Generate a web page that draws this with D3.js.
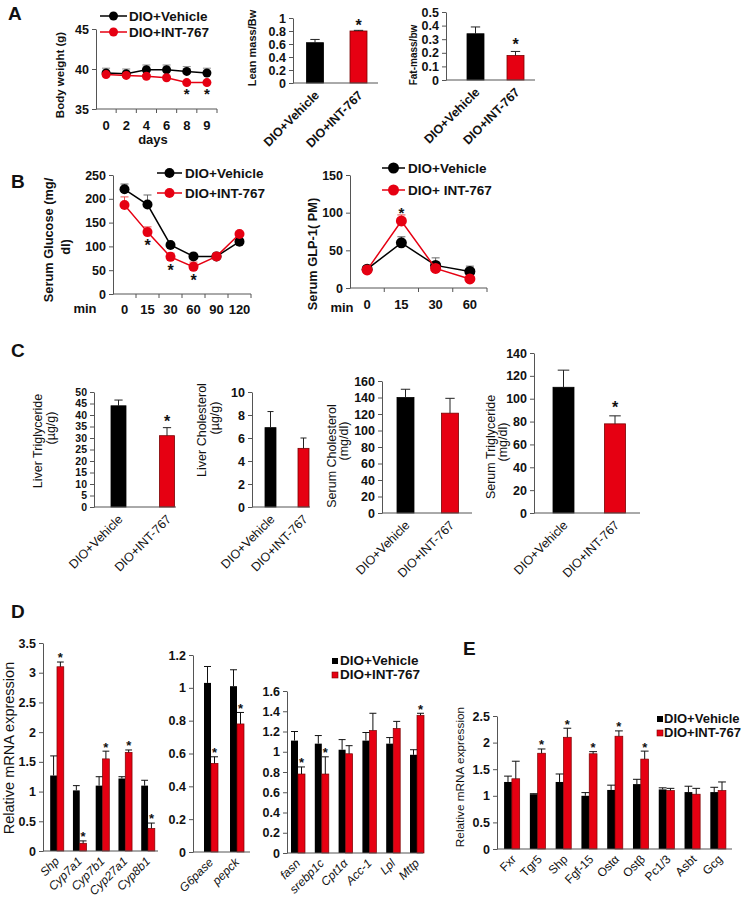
<!DOCTYPE html>
<html><head><meta charset="utf-8">
<script src="https://cdn.jsdelivr.net/npm/d3@7"></script>
<style>body{margin:0;background:#fff} svg text{font-family:"Liberation Sans",Arial,Helvetica,sans-serif}</style>
</head><body><svg id="c" width="745" height="912"></svg>
<script>
// ---------------- DATA ----------------
const groups = ["DIO+Vehicle", "DIO+INT-767"];
// A: body weight
const aDays = ["0","2","4","6","8","9"];
const bwVeh = [39.5, 39.4, 39.9, 39.9, 39.7, 39.5];
const bwVehErr = [0.6, 0.6, 0.6, 0.6, 0.6, 0.6];
const bwInt = [39.3, 39.2, 39.1, 38.9, 38.3, 38.3];
const bwIntErr = [0.2, 0.2, 0.2, 0.2, 0.2, 0.2];
const bwStars = [4, 5];
const bwTicks = [35, 40, 45];
// A: lean / fat mass
const leanMass = [0.62, 0.80], leanErr = [0.05, 0.01];
const leanTicks = [0, 0.2, 0.4, 0.6, 0.8, 1];
const fatMass = [0.34, 0.18], fatErr = [0.05, 0.03];
const fatTicks = [0, 0.1, 0.2, 0.3, 0.4, 0.5];
// B: glucose
const gluTimes = ["0","15","30","60","90","120"];
const gluVeh = [220, 188, 103, 79, 79, 110];
const gluVehErr = [11, 20, 4, 3, 0, 2];
const gluInt = [187, 130, 78, 57, 79, 126];
const gluIntErr = [17, 11, 8, 10, 0, 3];
const gluStars = [1, 2, 3];
const gluTicks = [0, 50, 100, 150, 200, 250];
// B: GLP-1
const glpTimes = ["0","15","30","60"];
const glpVeh = [25, 60, 30, 22];
const glpVehErr = [1, 8, 10, 7];
const glpInt = [24, 89, 26, 12];
const glpIntErr = [1, 8, 2, 2];
const glpStars = [1];
const glpTicks = [0, 50, 100, 150];
// C
const liverTG = [44, 31], liverTGErr = [2.5, 3.5];
const liverTGTicks = [0,5,10,15,20,25,30,35,40,45,50];
const liverChol = [6.9, 5.1], liverCholErr = [1.4, 0.9];
const liverCholTicks = [0,2,4,6,8,10];
const serumChol = [140, 121], serumCholErr = [10, 18];
const serumCholTicks = [0,20,40,60,80,100,120,140,160];
const serumTG = [110, 78], serumTGErr = [15, 7];
const serumTGTicks = [0,20,40,60,80,100,120,140];
// D
const d1Genes = ["Shp","Cyp7a1","Cyp7b1","Cyp27a1","Cyp8b1"];
const d1Veh = [1.27, 1.02, 1.10, 1.22, 1.10], d1VehErr = [0.33, 0.08, 0.15, 0.03, 0.09];
const d1Int = [3.10, 0.13, 1.55, 1.66, 0.38], d1IntErr = [0.08, 0.04, 0.13, 0.04, 0.09];
const d1Stars = [0,1,2,3,4];
const d1Ticks = [0,0.5,1,1.5,2,2.5,3,3.5];
const d2Genes = ["G6pase","pepck"];
const d2Veh = [1.03, 1.01], d2VehErr = [0.10, 0.10];
const d2Int = [0.54, 0.78], d2IntErr = [0.04, 0.07];
const d2Stars = [0,1];
const d2Ticks = [0,0.2,0.4,0.6,0.8,1,1.2];
const d3Genes = ["fasn","srebp1c","Cpt1α","Acc-1","Lpl","Mttp"];
const d3Veh = [1.11, 1.08, 1.02, 1.11, 1.08, 0.97], d3VehErr = [0.09, 0.08, 0.10, 0.08, 0.06, 0.05];
const d3Int = [0.78, 0.78, 0.98, 1.21, 1.23, 1.36], d3IntErr = [0.07, 0.17, 0.08, 0.17, 0.07, 0.02];
const d3Stars = [0,1,5];
const d3Ticks = [0,0.2,0.4,0.6,0.8,1,1.2,1.4,1.6];
// E
const eGenes = ["Fxr","Tgr5","Shp","Fgf-15","Ostα","Ostβ","Pc1/3","Asbt","Gcg"];
const eVeh = [1.26, 1.03, 1.26, 1.00, 1.11, 1.22, 1.12, 1.07, 1.07];
const eVehErr = [0.11, 0.01, 0.15, 0.06, 0.09, 0.09, 0.03, 0.11, 0.09];
const eInt = [1.32, 1.80, 2.10, 1.79, 2.12, 1.69, 1.10, 1.03, 1.10];
const eIntErr = [0.33, 0.08, 0.17, 0.04, 0.10, 0.15, 0.04, 0.11, 0.16];
const eStars = [1,2,3,4,5];
const eTicks = [0,0.5,1,1.5,2,2.5];

// ---------------- HELPERS ----------------
const svg = d3.select("#c");
const RED = "#e60012", RED_EDGE = "#7a0000", AX = "#555", INK = "#111";

function txt(x, y, s, o = {}) {
  const t = svg.append("text").attr("x", x).attr("y", y).text(s)
    .attr("font-size", o.fs || 12).attr("font-weight", o.fw || "bold")
    .attr("text-anchor", o.anchor || "start").attr("fill", o.fill || INK);
  if (o.italic) t.attr("font-style", "italic");
  if (o.rot) t.attr("transform", `rotate(${o.rot},${x},${y})`);
  return t;
}
function star(x, cy, fs) { txt(x, cy + 0.57 * fs, "*", { fs: fs, anchor: "middle" }); }

function yAxis(x0, y, ticks, fs) {
  const g = svg.append("g").attr("transform", `translate(${x0},0)`)
    .call(d3.axisLeft(y).tickValues(ticks).tickSize(4).tickSizeOuter(0).tickPadding(3).tickFormat(d3.format("~g")));
  g.select(".domain").attr("stroke", AX);
  g.selectAll(".tick line").attr("stroke", AX);
  g.selectAll(".tick text").attr("font-size", fs).attr("font-weight", "bold").attr("fill", INK)
    .attr("font-family", "Liberation Sans, Arial, sans-serif");
  return g;
}
function hLine(x0, x1, yv) {
  svg.append("line").attr("x1", x0).attr("x2", x1).attr("y1", yv).attr("y2", yv).attr("stroke", AX);
}
function errBar(xc, yv, ye, cap, color) {
  const g = svg.append("g").attr("stroke", color || "#000").attr("stroke-width", 1);
  g.append("line").attr("x1", xc).attr("x2", xc).attr("y1", yv).attr("y2", ye);
  g.append("line").attr("x1", xc - cap / 2).attr("x2", xc + cap / 2).attr("y1", ye).attr("y2", ye);
}
function rotLabels(cats, xc, y0, o) {
  svg.append("g").selectAll("text").data(cats).join("text")
    .attr("transform", d => `translate(${xc(d) + o.dx},${y0 + o.dy}) rotate(-45)`)
    .attr("text-anchor", "end").attr("font-size", o.fs).attr("font-weight", o.fw || "bold")
    .attr("font-style", o.italic ? "italic" : "normal").attr("fill", INK).text(d => d);
}
function yLabel(lines) {
  lines.forEach(l => txt(l.x, l.y, l.t, { fs: l.fs, fw: l.fw || "bold", anchor: "middle", rot: -90 }));
}

// Line chart with upper error bars
function lineChart(c) {
  const x = d3.scaleBand().domain(c.cats).range(c.band);
  const xc = d => x(d) + x.bandwidth() / 2;
  const y = d3.scaleLinear().domain(c.dom).range(c.rng);
  yAxis(c.band[0], y, c.ticks, c.tfs);
  hLine(c.band[0], c.band[1], y(c.dom[0]));
  c.cats.forEach((d, i) => {
    if (i > 0) svg.append("line").attr("x1", x(d)).attr("x2", x(d)).attr("y1", y(c.dom[0])).attr("y2", y(c.dom[0]) + 4).attr("stroke", AX);
  });
  svg.append("line").attr("x1", c.band[1]).attr("x2", c.band[1]).attr("y1", y(c.dom[0])).attr("y2", y(c.dom[0]) + 4).attr("stroke", AX);
  const ax = svg.append("g").attr("transform", `translate(0,${y(c.dom[0])})`)
    .call(d3.axisBottom(x).tickSize(0).tickPadding(c.tpad));
  ax.select(".domain").remove();
  ax.selectAll(".tick text").attr("font-size", c.xfs).attr("font-weight", "bold").attr("fill", INK)
    .attr("font-family", "Liberation Sans, Arial, sans-serif");
  c.series.forEach(s => {
    s.vals.forEach((v, i) => { if (s.errs[i] > 0) errBar(xc(c.cats[i]), y(v), y(v + s.errs[i]), 8, s.errColor); });
  });
  c.series.forEach(s => {
    const line = d3.line().x((v, i) => xc(c.cats[i])).y(v => y(v));
    svg.append("path").attr("d", line(s.vals)).attr("fill", "none").attr("stroke", s.color).attr("stroke-width", 1.5);
    svg.append("g").selectAll("circle").data(s.vals).join("circle")
      .attr("cx", (v, i) => xc(c.cats[i])).attr("cy", v => y(v)).attr("r", c.r).attr("fill", s.color);
  });
  return { x, xc, y };
}
function lineLegend(x0, x1, yy, tx, ty, label, color, r) {
  svg.append("line").attr("x1", x0).attr("x2", x1).attr("y1", yy).attr("y2", yy).attr("stroke", color).attr("stroke-width", 1.5);
  svg.append("circle").attr("cx", (x0 + x1) / 2).attr("cy", yy).attr("r", r).attr("fill", color);
  txt(tx, ty, label, { fs: 13.5 });
}

// Two-bar chart
function twoBar(c) {
  const x = d3.scaleBand().domain(groups).range(c.band);
  const xc = d => x(d) + x.bandwidth() / 2;
  const y = d3.scaleLinear().domain(c.dom).range(c.rng);
  const g = svg.append("g");
  g.selectAll("rect").data(c.vals).join("rect")
    .attr("x", (v, i) => xc(groups[i]) - c.bw / 2).attr("width", c.bw)
    .attr("y", v => y(v)).attr("height", v => y(0) - y(v))
    .attr("fill", (v, i) => i ? RED : "#000").attr("stroke", (v, i) => i ? RED_EDGE : "#000").attr("stroke-width", 0.8);
  c.vals.forEach((v, i) => errBar(xc(groups[i]), y(v), y(v + c.errs[i]), c.bw * 0.55, "#222"));
  (c.stars || []).forEach(i => star(xc(groups[i]), y(c.vals[i] + c.errs[i]) - c.sOff, c.sfs || 16));
  yAxis(c.ax, y, c.ticks, c.tfs);
  hLine(c.ax, c.axEnd, y(0));
  rotLabels(groups, xc, y(0), c.lab);
}

// Grouped bar chart
function groupBar(c) {
  const x = d3.scaleBand().domain(c.cats).range(c.band);
  const xc = d => x(d) + x.bandwidth() / 2;
  const y = d3.scaleLinear().domain(c.dom).range(c.rng);
  const g = svg.append("g");
  g.selectAll("rect.v").data(c.veh).join("rect").attr("class", "v")
    .attr("x", (v, i) => xc(c.cats[i]) - c.bw).attr("width", c.bw)
    .attr("y", v => y(v)).attr("height", v => y(0) - y(v)).attr("fill", "#000");
  g.selectAll("rect.r").data(c.int).join("rect").attr("class", "r")
    .attr("x", (v, i) => xc(c.cats[i])).attr("width", c.bw)
    .attr("y", v => y(v)).attr("height", v => y(0) - y(v))
    .attr("fill", RED).attr("stroke", RED_EDGE).attr("stroke-width", 0.7);
  c.veh.forEach((v, i) => errBar(xc(c.cats[i]) - c.bw / 2, y(v), y(v + c.vehErr[i]), c.bw, "#111"));
  c.int.forEach((v, i) => errBar(xc(c.cats[i]) + c.bw / 2, y(v), y(v + c.intErr[i]), c.bw, "#111"));
  c.stars.forEach(i => star(xc(c.cats[i]) + c.bw / 2, y(c.int[i] + c.intErr[i]) - 7, 13));
  yAxis(c.ax, y, c.ticks, c.tfs);
  hLine(c.ax, c.axEnd, y(0));
  rotLabels(c.cats, xc, y(0), c.lab);
}
function sqLegend(x, y1, y2, tx, fs) {
  svg.append("rect").attr("x", x).attr("y", y1 - 7).attr("width", 6).attr("height", 6).attr("fill", "#000");
  svg.append("rect").attr("x", x).attr("y", y2 - 7).attr("width", 6).attr("height", 6).attr("fill", RED).attr("stroke", RED_EDGE).attr("stroke-width", 0.6);
  txt(tx, y1, groups[0], { fs: fs });
  txt(tx, y2, groups[1], { fs: fs });
}

// ---------------- PANEL LETTERS ----------------
txt(8, 20, "A", { fs: 19 });
txt(11, 188, "B", { fs: 19 });
txt(11, 357, "C", { fs: 19 });
txt(11, 618, "D", { fs: 19 });
txt(463, 655, "E", { fs: 19 });

// ---------------- A ----------------
{
  const r = lineChart({ cats: aDays, band: [96, 217], dom: [35, 45], rng: [109, 29], ticks: bwTicks, tfs: 12.5,
    xfs: 13, tpad: 12, r: 4.5,
    series: [{ vals: bwVeh, errs: bwVehErr, color: "#000", errColor: "#888" },
             { vals: bwInt, errs: bwIntErr, color: RED, errColor: "#f07070" }] });
  bwStars.forEach(i => star(r.xc(aDays[i]), r.y(bwInt[i]) + 8, 15));
  txt(153, 144, "days", { fs: 13, anchor: "middle" });
  yLabel([{ x: 64, y: 75, t: "Body weight (g)", fs: 11.5 }]);
  lineLegend(100, 127, 16, 129, 21, groups[0], "#000", 4.5);
  lineLegend(100, 127, 32, 129, 37, groups[1], RED, 4.5);
}
twoBar({ band: [293.25, 380.25], dom: [0, 1], rng: [83, 18], ticks: leanTicks, tfs: 12.5, vals: leanMass, errs: leanErr,
  bw: 17, ax: 293, axEnd: 378, stars: [1], sOff: 8, lab: { dx: 5, dy: 13, fs: 12.5 } });
yLabel([{ x: 256, y: 48, t: "Lean mass/Bw", fs: 11 }]);
twoBar({ band: [455.5, 535.5], dom: [0, 0.5], rng: [80, 12], ticks: fatTicks, tfs: 12.5, vals: fatMass, errs: fatErr,
  bw: 17, ax: 446, axEnd: 535, stars: [1], sOff: 11, lab: { dx: 5, dy: 13, fs: 12.5 } });
yLabel([{ x: 417, y: 55, t: "Fat-mass/bw", fs: 10 }]);

// ---------------- B ----------------
{
  const r = lineChart({ cats: gluTimes, band: [113, 251], dom: [0, 250], rng: [294, 175], ticks: gluTicks, tfs: 12.5,
    xfs: 13, tpad: 11, r: 5,
    series: [{ vals: gluVeh, errs: gluVehErr, color: "#000", errColor: "#666" },
             { vals: gluInt, errs: gluIntErr, color: RED, errColor: "#e85050" }] });
  gluStars.forEach(i => star(r.xc(gluTimes[i]), r.y(gluInt[i]) + 10, 16));
  txt(85, 313, "min", { fs: 13, anchor: "middle" });
  yLabel([{ x: 53, y: 240, t: "Serum Glucose (mg/", fs: 12.8 }, { x: 70, y: 247, t: "dl)", fs: 12.8 }]);
  lineLegend(157, 182, 173, 185, 178, groups[0], "#000", 5);
  lineLegend(157, 182, 193, 185, 198, groups[1], RED, 5);
}
{
  const r = lineChart({ cats: glpTimes, band: [350, 487], dom: [0, 150], rng: [288, 175], ticks: glpTicks, tfs: 12.5,
    xfs: 13, tpad: 12, r: 5.5,
    series: [{ vals: glpVeh, errs: glpVehErr, color: "#000", errColor: "#666" },
             { vals: glpInt, errs: glpIntErr, color: RED, errColor: "#e85050" }] });
  glpStars.forEach(i => star(r.xc(glpTimes[i]), r.y(glpInt[i] + glpIntErr[i]) - 5, 15));
  txt(342, 312, "min", { fs: 13, anchor: "middle" });
  yLabel([{ x: 317, y: 254, t: "Serum GLP-1( PM)", fs: 12.8 }]);
  lineLegend(382, 405, 168, 408, 173, groups[0], "#000", 5.5);
  lineLegend(382, 405, 190, 408, 195, "DIO+ INT-767", RED, 5.5);
}

// ---------------- C ----------------
const cLab = { dx: 5, dy: 13, fs: 12.5, fw: "normal" };
twoBar({ band: [94.25, 191.25], dom: [0, 50], rng: [507, 392], ticks: liverTGTicks, tfs: 10.5, vals: liverTG, errs: liverTGErr,
  bw: 15, ax: 94, axEnd: 176, stars: [1], sOff: 10, lab: cLab });
yLabel([{ x: 42, y: 441, t: "Liver Triglyceride", fs: 12.5, fw: "normal" }, { x: 55, y: 428, t: "(µg/g)", fs: 12.5, fw: "normal" }]);
twoBar({ band: [254, 320], dom: [0, 10], rng: [507, 392], ticks: liverCholTicks, tfs: 12.5, vals: liverChol, errs: liverCholErr,
  bw: 11, ax: 252, axEnd: 310, stars: [], sOff: 10, lab: cLab });
yLabel([{ x: 206, y: 430, t: "Liver Cholesterol", fs: 12.5, fw: "normal" }, { x: 219, y: 418, t: "(µg/g)", fs: 12.5, fw: "normal" }]);
twoBar({ band: [383.25, 472.25], dom: [0, 160], rng: [513, 381], ticks: serumCholTicks, tfs: 12.5, vals: serumChol, errs: serumCholErr,
  bw: 17, ax: 382, axEnd: 472, stars: [], sOff: 10, lab: cLab });
yLabel([{ x: 336, y: 456, t: "Serum Cholesterol", fs: 12.5, fw: "normal" }, { x: 348, y: 441, t: "(mg/dl)", fs: 12.5, fw: "normal" }]);
twoBar({ band: [537.75, 640.75], dom: [0, 140], rng: [513, 353], ticks: serumTGTicks, tfs: 12.5, vals: serumTG, errs: serumTGErr,
  bw: 21, ax: 534, axEnd: 640, stars: [1], sOff: 12, lab: cLab });
yLabel([{ x: 495, y: 447, t: "Serum Triglyceride", fs: 12.5, fw: "normal" }, { x: 507, y: 442, t: "(mg/dl)", fs: 12.5, fw: "normal" }]);

// ---------------- D ----------------
const dLab = { dx: 3, dy: 11, fs: 12, fw: "normal", italic: true };
groupBar({ cats: d1Genes, band: [45.6, 159.4], dom: [0, 3.5], rng: [851, 643], ticks: d1Ticks, tfs: 12.5,
  veh: d1Veh, vehErr: d1VehErr, int: d1Int, intErr: d1IntErr, stars: d1Stars, bw: 6.8, ax: 43, axEnd: 158, lab: dLab });
groupBar({ cats: d2Genes, band: [198, 250], dom: [0, 1.2], rng: [852, 655], ticks: d2Ticks, tfs: 12.5,
  veh: d2Veh, vehErr: d2VehErr, int: d2Int, intErr: d2IntErr, stars: d2Stars, bw: 7, ax: 193, axEnd: 250, lab: dLab });
groupBar({ cats: d3Genes, band: [286.1, 428.9], dom: [0, 1.6], rng: [853, 691], ticks: d3Ticks, tfs: 12.5,
  veh: d3Veh, vehErr: d3VehErr, int: d3Int, intErr: d3IntErr, stars: d3Stars, bw: 7, ax: 287, axEnd: 423, lab: dLab });
yLabel([{ x: 14, y: 748, t: "Relative mRNA expression", fs: 14.5, fw: "normal" }]);
sqLegend(332, 665, 679, 340, 13.5);

// ---------------- E ----------------
groupBar({ cats: eGenes, band: [499, 731], dom: [0, 2.5], rng: [849, 716], ticks: eTicks, tfs: 12.5,
  veh: eVeh, vehErr: eVehErr, int: eInt, intErr: eIntErr, stars: eStars, bw: 7.8, ax: 497, axEnd: 732,
  lab: { dx: 5, dy: 11, fs: 12, fw: "normal" } });
yLabel([{ x: 464, y: 777, t: "Relative mRNA expression", fs: 11.8, fw: "normal" }]);
sqLegend(657, 723, 737, 664, 13);
</script>
</body></html>
